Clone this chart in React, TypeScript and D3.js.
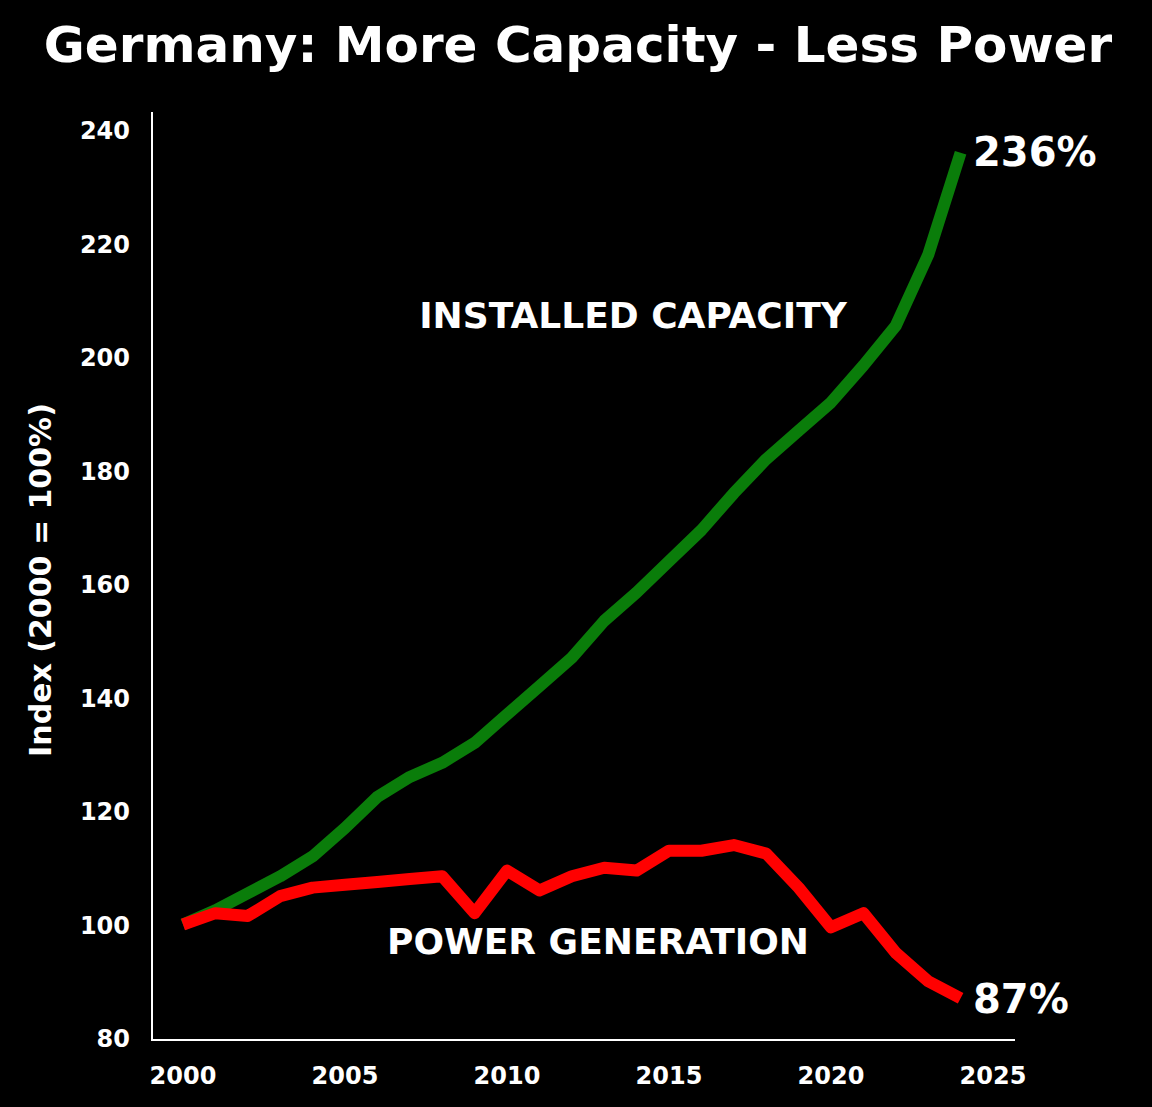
import React from "react";
import * as d3 from "d3";

const years = d3.range(2000, 2025);
const capacity = [100, 102.5, 105.5, 108.5, 112, 117, 122.5, 126, 128.5, 132, 137, 142, 147, 153.5, 158.5, 164, 169.5, 176, 182, 187, 192, 198.5, 205.5, 218, 236];
const generation = [100, 102, 101.5, 105, 106.5, 107, 107.5, 108, 108.5, 102, 109.5, 106, 108.5, 110, 109.5, 113, 113, 114, 112.5, 106.5, 99.5, 102, 95, 90, 87];
const xTicks = [2000, 2005, 2010, 2015, 2020, 2025];
const yTicks = [80, 100, 120, 140, 160, 180, 200, 220, 240];

export default function App() {
  const W = 1152, H = 1107;
  const x = d3.scaleLinear().domain([2000, 2025]).range([183, 993]);
  const y = d3.scaleLinear().domain([80, 240]).range([1038, 130]);
  const line = (vals: number[]) =>
    d3.line<number>().x((_, i) => x(years[i])).y((d) => y(d)).curve(d3.curveLinear)(vals) || "";
  const font = "DejaVu Sans, sans-serif";
  return (
    <svg width={W} height={H} style={{ position: "absolute", left: 0, top: 0, background: "#000" }}>
      <rect width={W} height={H} fill="#000" />
      <text x={578} y={62} textAnchor="middle" fill="#fff" fontFamily={font} fontWeight="bold" fontSize={50}>
        Germany: More Capacity - Less Power
      </text>
      <line x1={152} x2={152} y1={112} y2={1041} stroke="#fff" strokeWidth={2} />
      <line x1={151} x2={1015} y1={1040} y2={1040} stroke="#fff" strokeWidth={2} />
      {yTicks.map((t) => (
        <text key={t} x={130} y={y(t) + 9} textAnchor="end" fill="#fff" fontFamily={font} fontWeight="bold" fontSize={24}>{t}</text>
      ))}
      {xTicks.map((t) => (
        <text key={t} x={x(t)} y={1084} textAnchor="middle" fill="#fff" fontFamily={font} fontWeight="bold" fontSize={24}>{t}</text>
      ))}
      <text transform="translate(51,580) rotate(-90)" textAnchor="middle" fill="#fff" fontFamily={font} fontWeight="bold" fontSize={30}>
        Index (2000 = 100%)
      </text>
      <path d={line(capacity)} fill="none" stroke="#0a7d0a" strokeWidth={12} strokeLinejoin="round" />
      <path d={line(generation)} fill="none" stroke="#ff0000" strokeWidth={12} strokeLinejoin="round" />
      <text x={633} y={328} textAnchor="middle" fill="#fff" fontFamily={font} fontWeight="bold" fontSize={36}>INSTALLED CAPACITY</text>
      <text x={598} y={954} textAnchor="middle" fill="#fff" fontFamily={font} fontWeight="bold" fontSize={36}>POWER GENERATION</text>
      <text x={973} y={166} fill="#fff" fontFamily={font} fontWeight="bold" fontSize={40}>236%</text>
      <text x={973} y={1013} fill="#fff" fontFamily={font} fontWeight="bold" fontSize={40}>87%</text>
    </svg>
  );
}
